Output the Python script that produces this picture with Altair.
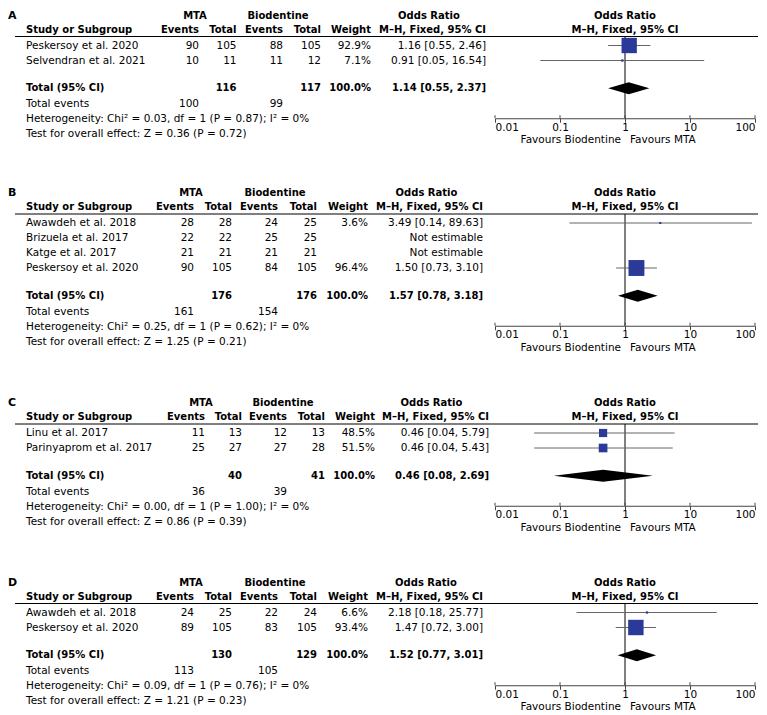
import altair as alt
import pandas as pd

# ---------------- data ----------------
studies_A = ["Peskersoy et al. 2020", "Selvendran et al. 2021"]
mta_ev_A = [90, 10]
mta_tot_A = [105, 11]
bio_ev_A = [88, 11]
bio_tot_A = [105, 12]
weight_A = [92.9, 7.1]
or_A = [1.16, 0.91]
lo_A = [0.55, 0.05]
hi_A = [2.46, 16.54]
total_A = [116, 117, 100, 99]          # MTA total, Bio total, MTA events, Bio events
pooled_A = [1.14, 0.55, 2.37]
het_A = "Heterogeneity: Chi² = 0.03, df = 1 (P = 0.87); I² = 0%"
test_A = "Test for overall effect: Z = 0.36 (P = 0.72)"

studies_B = ["Awawdeh et al. 2018", "Brizuela et al. 2017", "Katge et al. 2017", "Peskersoy et al. 2020"]
mta_ev_B = [28, 22, 21, 90]
mta_tot_B = [28, 22, 21, 105]
bio_ev_B = [24, 25, 21, 84]
bio_tot_B = [25, 25, 21, 105]
weight_B = [3.6, None, None, 96.4]
or_B = [3.49, None, None, 1.50]
lo_B = [0.14, None, None, 0.73]
hi_B = [89.63, None, None, 3.10]
total_B = [176, 176, 161, 154]
pooled_B = [1.57, 0.78, 3.18]
het_B = "Heterogeneity: Chi² = 0.25, df = 1 (P = 0.62); I² = 0%"
test_B = "Test for overall effect: Z = 1.25 (P = 0.21)"

studies_C = ["Linu et al. 2017", "Parinyaprom et al. 2017"]
mta_ev_C = [11, 25]
mta_tot_C = [13, 27]
bio_ev_C = [12, 27]
bio_tot_C = [13, 28]
weight_C = [48.5, 51.5]
or_C = [0.46, 0.46]
lo_C = [0.04, 0.04]
hi_C = [5.79, 5.43]
total_C = [40, 41, 36, 39]
pooled_C = [0.46, 0.08, 2.69]
het_C = "Heterogeneity: Chi² = 0.00, df = 1 (P = 1.00); I² = 0%"
test_C = "Test for overall effect: Z = 0.86 (P = 0.39)"

studies_D = ["Awawdeh et al. 2018", "Peskersoy et al. 2020"]
mta_ev_D = [24, 89]
mta_tot_D = [25, 105]
bio_ev_D = [22, 83]
bio_tot_D = [24, 105]
weight_D = [6.6, 93.4]
or_D = [2.18, 1.47]
lo_D = [0.18, 0.72]
hi_D = [25.77, 3.00]
total_D = [130, 129, 113, 105]
pooled_D = [1.52, 0.77, 3.01]
het_D = "Heterogeneity: Chi² = 0.09, df = 1 (P = 0.76); I² = 0%"
test_D = "Test for overall effect: Z = 1.21 (P = 0.23)"

ticks = [0.01, 0.1, 1, 10, 100]

# ---------------- layout (pixels, absolute page coordinates) ----------------
FONT = "DejaVu Sans"
FS = 10.5
FSB = 10
ROW = 15
ORIGIN = 495
WIDTH = 260
LAYOUT = {
    "A": dict(ev1=199, tot1=236.5, ev2=283, tot2=321, wt=371, ci=486, mta=195, bio=278, orc=429),
    "B": dict(ev1=194, tot1=232, ev2=278, tot2=317, wt=368, ci=483, mta=191, bio=275, orc=426.5),
    "C": dict(ev1=205, tot1=242, ev2=287, tot2=325, wt=375, ci=489, mta=201, bio=283, orc=431.5),
    "D": dict(ev1=194, tot1=232, ev2=278, tot2=317, wt=368, ci=483, mta=191, bio=275, orc=426),
}
STUDY_X = 26
LABEL_X = 8
LINE_X1, LINE_X2 = 15, 758
SQ_COLOR = "#2b3a98"
WHISK = "#666666"
AXC = "#444444"


def fmt_ci(o, l, h):
    return f"{o:.2f} [{l:.2f}, {h:.2f}]"


def panel(label, studies, mta_ev, mta_tot, bio_ev, bio_tot, weight, orv, lo, hi,
          totals, pooled, het, test, lay):
    n = len(studies)
    r_total = n + 0.85
    r_te = n + 1.9
    r_het = n + 2.9
    r_test = n + 3.9
    r_axis = n + 2.85
    ymin = -2.5
    height = (r_axis - ymin) * ROW
    O = ORIGIN
    W = WIDTH

    yscale = alt.Scale(domain=[ymin, r_axis], reverse=True, nice=False, zero=False)
    xscale = alt.Scale(type="log", domain=[0.01, 100], nice=False)
    xaxis = alt.Axis(values=ticks, format="~g", title=None, grid=False,
                     labelFont=FONT, labelFontSize=FS, labelColor="black",
                     domainColor=AXC, tickColor=AXC, tickSize=4, labelPadding=0)

    def Y(field=None, datum=None):
        if field is not None:
            return alt.Y(field, scale=yscale, axis=None)
        return alt.Y(datum=datum, scale=yscale, axis=None)

    def X(field=None, datum=None):
        if field is not None:
            return alt.X(field, scale=xscale, axis=xaxis)
        return alt.X(datum=datum, scale=xscale, axis=xaxis)

    layers = []

    def text_layer(rows, xabs, align, bold=False, size=None):
        if size is None:
            size = FSB if bold else FS
        df = pd.DataFrame(rows, columns=["row", "t"])
        return alt.Chart(df).mark_text(
            align=align, baseline="middle", font=FONT, fontSize=size,
            fontWeight="bold" if bold else "normal", color="black"
        ).encode(x=alt.value(xabs - O), y=Y("row:Q"), text="t:N")

    # header line across table and plot
    layers.append(alt.Chart(pd.DataFrame({"a": [0]})).mark_rule(color="black", strokeWidth=1).encode(
        x=alt.value(LINE_X1 - O), x2=alt.value(LINE_X2 - O), y=Y(datum=-0.6)))
    # line of no effect
    layers.append(alt.Chart(pd.DataFrame({"a": [0]})).mark_rule(color="black", strokeWidth=1).encode(
        x=X(datum=1), y=Y(datum=-0.6), y2=alt.Y2(datum=r_axis)))
    # upward tick halves
    layers.append(alt.Chart(pd.DataFrame({"v": ticks})).mark_rule(color=AXC, strokeWidth=1).encode(
        x=X("v:Q"), y=Y(datum=r_axis), y2=alt.Y2(datum=r_axis - 3.0 / ROW)))

    # study estimates
    est = pd.DataFrame({
        "row": list(range(n)), "or": orv, "lo": lo, "hi": hi, "w": weight
    }).dropna()
    layers.append(alt.Chart(est).mark_rule(color=WHISK, strokeWidth=1).encode(
        x=X("lo:Q"), x2="hi:Q", y=Y("row:Q")))
    layers.append(alt.Chart(est).mark_square(color=SQ_COLOR, filled=True, opacity=1, strokeWidth=0).encode(
        x=X("or:Q"), y=Y("row:Q"),
        size=alt.Size("w:Q", scale=alt.Scale(type="pow", exponent=2, domain=[0, 100], range=[4, 272]), legend=None)))

    # pooled diamond
    h = 6.0 / ROW
    dia = pd.DataFrame({
        "x": [pooled[1], pooled[0], pooled[2]],
        "y": [r_total, r_total - h, r_total],
        "y2": [r_total, r_total + h, r_total],
    })
    layers.append(alt.Chart(dia).mark_area(color="black", orient="vertical", opacity=1).encode(
        x=X("x:Q"), y=Y("y:Q"), y2="y2:Q"))

    # favours labels
    fav_row = r_axis + 22.0 / ROW
    layers.append(alt.Chart(pd.DataFrame({"a": [0]})).mark_text(
        align="right", baseline="middle", font=FONT, fontSize=FS, color="black", dx=-4,
        text="Favours Biodentine").encode(x=X(datum=1), y=Y(datum=fav_row)))
    layers.append(alt.Chart(pd.DataFrame({"a": [0]})).mark_text(
        align="left", baseline="middle", font=FONT, fontSize=FS, color="black", dx=5,
        text="Favours MTA").encode(x=X(datum=1), y=Y(datum=fav_row)))

    # forest headers
    layers.append(alt.Chart(pd.DataFrame({"row": [-2, -1.05], "t": ["Odds Ratio", "M–H, Fixed, 95% CI"]})).mark_text(
        align="center", baseline="middle", font=FONT, fontSize=FSB, fontWeight="bold", color="black").encode(
        x=X(datum=1), y=Y("row:Q"), text="t:N"))

    # panel label
    layers.append(text_layer([(-2.0, label)], LABEL_X, "left", bold=True, size=11))

    # table headers
    layers.append(text_layer([(-2, "MTA")], lay["mta"], "center", bold=True))
    layers.append(text_layer([(-2, "Biodentine")], lay["bio"], "center", bold=True))
    layers.append(text_layer([(-2, "Odds Ratio")], lay["orc"], "center", bold=True))
    layers.append(text_layer([(-1.05, "Study or Subgroup")], STUDY_X, "left", bold=True))
    for key, name in [("ev1", "Events"), ("tot1", "Total"), ("ev2", "Events"), ("tot2", "Total"),
                      ("wt", "Weight"), ("ci", "M–H, Fixed, 95% CI")]:
        layers.append(text_layer([(-1.05, name)], lay[key], "right", bold=True))

    # study rows
    rows_idx = list(range(n))
    layers.append(text_layer(list(zip(rows_idx, studies)) +
                             [(r_te, "Total events"), (r_het, het), (r_test, test)],
                             STUDY_X, "left"))
    layers.append(text_layer([(r_total, "Total (95% CI)")], STUDY_X, "left", bold=True))
    layers.append(text_layer(list(zip(rows_idx, [str(v) for v in mta_ev])) + [(r_te, str(totals[2]))],
                             lay["ev1"], "right"))
    layers.append(text_layer(list(zip(rows_idx, [str(v) for v in mta_tot])), lay["tot1"], "right"))
    layers.append(text_layer([(r_total, str(totals[0]))], lay["tot1"], "right", bold=True))
    layers.append(text_layer(list(zip(rows_idx, [str(v) for v in bio_ev])) + [(r_te, str(totals[3]))],
                             lay["ev2"], "right"))
    layers.append(text_layer(list(zip(rows_idx, [str(v) for v in bio_tot])), lay["tot2"], "right"))
    layers.append(text_layer([(r_total, str(totals[1]))], lay["tot2"], "right", bold=True))
    wrows = [(i, f"{w:.1f}%") for i, w in enumerate(weight) if w is not None]
    layers.append(text_layer(wrows, lay["wt"], "right"))
    layers.append(text_layer([(r_total, "100.0%")], lay["wt"], "right", bold=True))
    cirows = [(i, fmt_ci(o, l, hh) if o is not None else "Not estimable")
              for i, (o, l, hh) in enumerate(zip(orv, lo, hi))]
    layers.append(text_layer(cirows, lay["ci"], "right"))
    layers.append(text_layer([(r_total, fmt_ci(*pooled))], lay["ci"], "right", bold=True))

    return alt.layer(*layers).properties(width=W, height=height)


pA = panel("A", studies_A, mta_ev_A, mta_tot_A, bio_ev_A, bio_tot_A, weight_A, or_A, lo_A, hi_A,
           total_A, pooled_A, het_A, test_A, LAYOUT["A"])
pB = panel("B", studies_B, mta_ev_B, mta_tot_B, bio_ev_B, bio_tot_B, weight_B, or_B, lo_B, hi_B,
           total_B, pooled_B, het_B, test_B, LAYOUT["B"])
pC = panel("C", studies_C, mta_ev_C, mta_tot_C, bio_ev_C, bio_tot_C, weight_C, or_C, lo_C, hi_C,
           total_C, pooled_C, het_C, test_C, LAYOUT["C"])
pD = panel("D", studies_D, mta_ev_D, mta_tot_D, bio_ev_D, bio_tot_D, weight_D, or_D, lo_D, hi_D,
           total_D, pooled_D, het_D, test_D, LAYOUT["D"])

chart = alt.vconcat(
    alt.vconcat(pA, pB, spacing=39.5),
    alt.vconcat(pC, pD, spacing=41.5),
    spacing=41.5,
).properties(
    padding={"left": 0, "top": 0, "right": 0, "bottom": 0}, background="white"
).configure_view(stroke=None)

chart.save("out.html", embed_options={"renderer": "svg", "actions": False})
